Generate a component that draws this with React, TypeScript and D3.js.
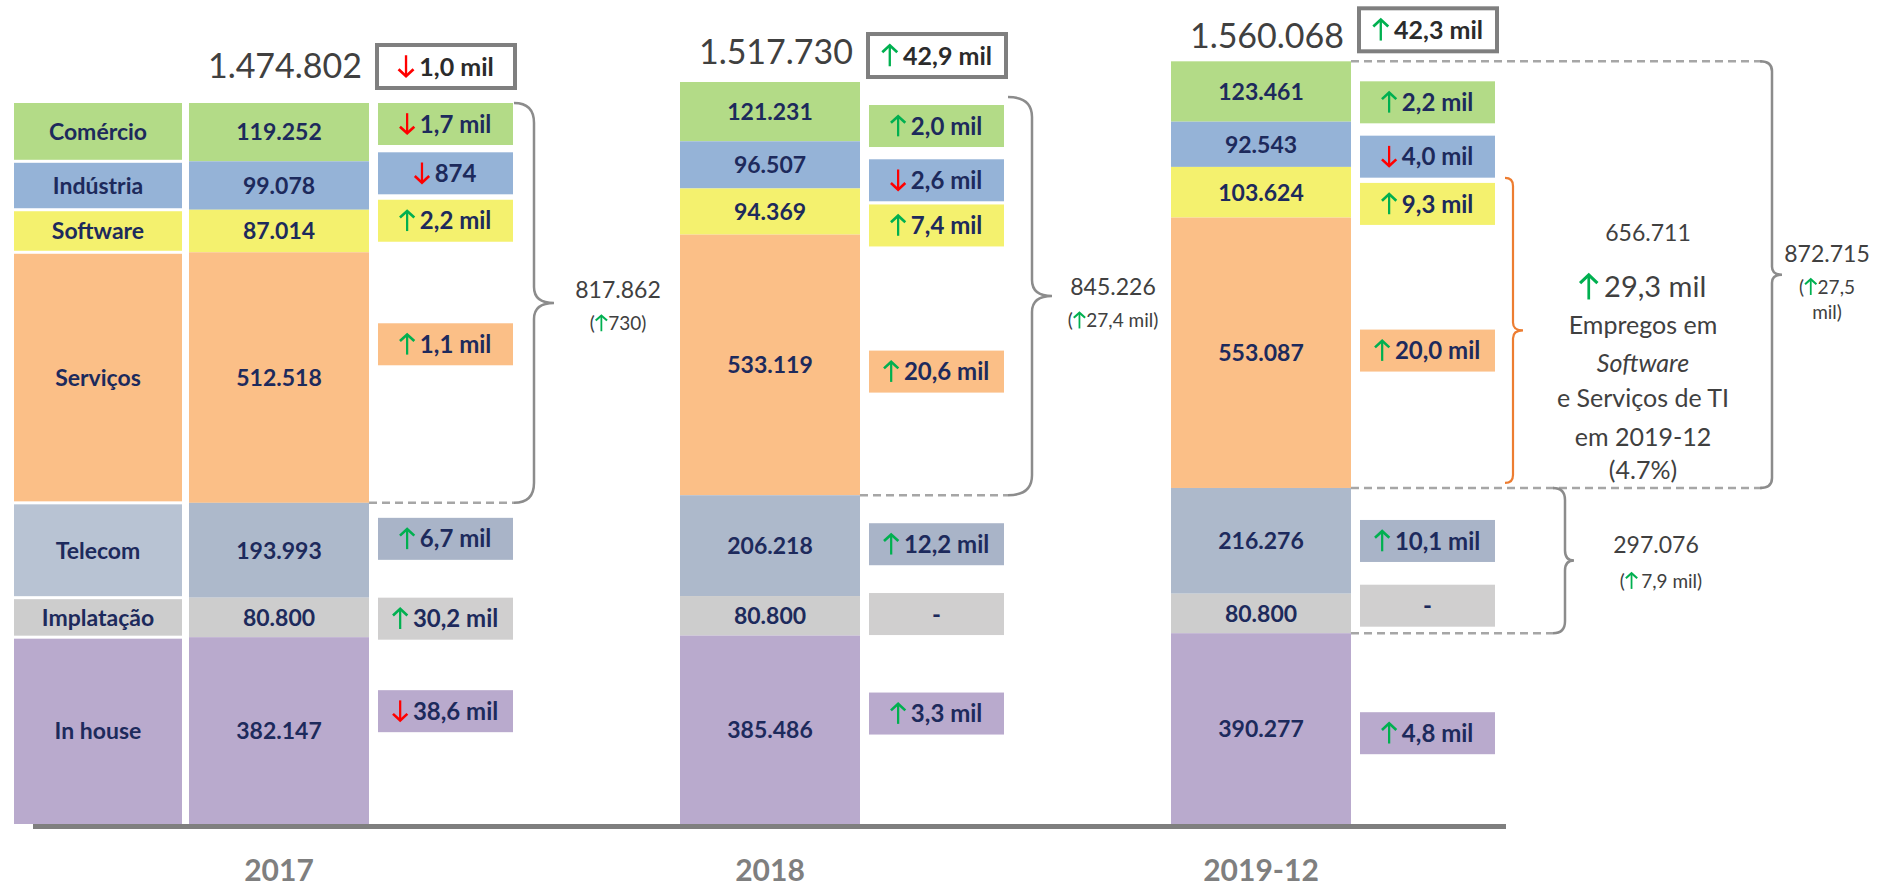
import React, { useEffect, useRef } from "react";
import * as d3 from "d3";

// ---------------- data ----------------
const years = ["2017", "2018", "2019-12"];
const categories = ["Comércio", "Indústria", "Software", "Serviços", "Telecom", "Implatação", "In house"];
const employees2017 = [119252, 99078, 87014, 512518, 193993, 80800, 382147];
const employees2018 = [121231, 96507, 94369, 533119, 206218, 80800, 385486];
const employees2019 = [123461, 92543, 103624, 553087, 216276, 80800, 390277];
const change2017 = [-1700, -874, 2200, 1100, 6700, 30200, -38600];
const change2018 = [2000, -2600, 7400, 20600, 12200, 0, 3300];
const change2019 = [2200, -4000, 9300, 20000, 10100, 0, 4800];
const totalChange = [-1000, 42900, 42300];
const firstFourChange = [730, 27400, 27500];
const swServChange2019 = 29300;
const telImplChange2019 = 7900;
const swServShare2019 = 4.7;

// ---------------- style ----------------
const segFill = ["#B3DB87", "#95B3D7", "#F4F16E", "#FBBF87", "#ADB9CB", "#CDCDCD", "#B9AACD"];
const labelFill = ["#B3DB87", "#95B3D7", "#F4F16E", "#FBBF87", "#B8C3D3", "#CDCDCD", "#B9AACD"];
const deltaFill = ["#B3DB87", "#95B3D7", "#F4F16E", "#FBBF87", "#A9B4C8", "#D0CFCF", "#B9AACD"];
const NAVY = "#1d2a5c";
const DARK = "#404040";
const GREEN = "#00B050";
const RED = "#FF0000";
const FONT = "Lato, 'Open Sans', 'DejaVu Sans', sans-serif";

// annotation layout (px offsets from the segment top, per year)
const deltaBoxOffset = [
  [0, -9, -10, 71, 15, 0, 53],
  [23, 18, 16, 116, 28, -3, 57],
  [20, 14, 16, 112, 32, -9, 79],
];
const headerBoxBottom = [-15, -5, -10];
const headerTextBase = [-25, -18, -13];

const locale = d3.formatLocale({ decimal: ",", thousands: ".", grouping: [3], currency: ["R$", ""] });
const fmtInt = locale.format(",d");
const fmtMil = locale.format(".1f");
const changeLabel = (v: number) => {
  const a = Math.abs(v);
  return a >= 1000 ? fmtMil(a / 1000) + " mil" : fmtInt(a);
};

export default function App() {
  const ref = useRef<SVGSVGElement>(null);

  useEffect(() => {
    const svg = d3.select(ref.current as SVGSVGElement);
    svg.selectAll("*").remove();
    const root = svg.append("g").attr("font-family", FONT);

    const series = [employees2017, employees2018, employees2019];
    const changes = [change2017, change2018, change2019];
    const totals = series.map((s) => d3.sum(s));

    const baseY = 824;
    const y = d3.scaleLinear().domain([0, totals[0]]).range([baseY, 103]);
    const xLeft = d3.scalePoint<string>().domain(years).range([189, 1171]);
    const colW = 180;

    const drawArrow = (g: any, cx: number, cy: number, up: boolean, h: number, sw: number) => {
      const half = h / 2;
      const hw = h * 0.34;
      const hh = h * 0.36;
      const tipY = up ? cy - half : cy + half;
      const tailY = up ? cy + half : cy - half;
      const dir = up ? 1 : -1;
      const color = up ? GREEN : RED;
      g.append("path")
        .attr("d", `M${cx},${tailY} L${cx},${tipY + dir * 2}`)
        .attr("stroke", color)
        .attr("stroke-width", sw * 0.85)
        .attr("fill", "none");
      g.append("path")
        .attr("d", `M${cx - hw},${tipY + dir * hh} L${cx},${tipY + dir * 1} L${cx + hw},${tipY + dir * hh}`)
        .attr("stroke", color)
        .attr("stroke-width", sw)
        .attr("fill", "none")
        .attr("stroke-linejoin", "miter");
    };

    const arrowText = (
      g: any,
      cx: number,
      baseline: number,
      pre: string,
      up: boolean,
      post: string,
      fs: number,
      weight: number,
      color: string,
      gapAfter = 0.22
    ) => {
      const mk = (s: string) =>
        g.append("text").attr("font-size", fs).attr("font-weight", weight).attr("fill", color).attr("y", baseline).text(s);
      const tPre = pre ? mk(pre) : null;
      const wPre = tPre ? (tPre.node() as SVGTextElement).getComputedTextLength() : 0;
      const tPost = mk(post);
      const wPost = (tPost.node() as SVGTextElement).getComputedTextLength();
      const aW = fs * 0.62;
      const g1 = pre ? fs * 0.04 : 0;
      const g2 = fs * gapAfter;
      const total = wPre + g1 + aW + g2 + wPost;
      let x = cx - total / 2;
      if (tPre) tPre.attr("x", x);
      x += wPre + g1;
      drawArrow(g, x + aW / 2, baseline - fs * 0.37, up, fs * 0.88, Math.max(2, fs * 0.11));
      x += aW + g2;
      tPost.attr("x", x);
    };

    const brace = (x0: number, y0: number, y1: number, dx1: number, dx2: number, r: number, rm: number) => {
      const x1 = x0 + dx1;
      const x2 = x1 + dx2;
      const ym = (y0 + y1) / 2;
      return {
        d: `M${x0},${y0} Q${x1},${y0} ${x1},${y0 + r} L${x1},${ym - rm} Q${x1},${ym} ${x2},${ym} Q${x1},${ym} ${x1},${ym + rm} L${x1},${y1 - r} Q${x1},${y1} ${x0},${y1}`,
        tipX: x2,
        tipY: ym,
      };
    };
    const drawBrace = (b: any, color = "#8c8c8c", w = 2.5) =>
      root.append("path").attr("d", b.d).attr("fill", "none").attr("stroke", color).attr("stroke-width", w);
    const dashed = (x0: number, x1: number, yy: number) =>
      root
        .append("line")
        .attr("x1", x0)
        .attr("x2", x1)
        .attr("y1", yy)
        .attr("y2", yy)
        .attr("stroke", "#a6a6a6")
        .attr("stroke-width", 2.5)
        .attr("stroke-dasharray", "8 5");

    // per-year segment geometry
    const geo = series.map((vals) =>
      vals.map((v, j) => ({
        top: y(d3.sum(vals.slice(j))),
        bottom: y(d3.sum(vals.slice(j + 1))),
        value: v,
      }))
    );

    // baseline
    root
      .append("rect")
      .attr("x", 33)
      .attr("y", baseY)
      .attr("width", 1473)
      .attr("height", 5)
      .attr("fill", "#7f7f7f");

    years.forEach((yr, i) => {
      const x0 = xLeft(yr) as number;
      const xR = x0 + colW;
      const segs = geo[i];
      const g = root.append("g");

      // label column (only first year)
      if (i === 0) {
        segs.forEach((s, j) => {
          const t = s.top + (j === 0 ? 0 : 1.5);
          const b = s.bottom - (j === segs.length - 1 ? 0 : 1.5);
          g.append("rect")
            .attr("x", x0 - 175)
            .attr("y", t)
            .attr("width", 168)
            .attr("height", b - t)
            .attr("fill", labelFill[j]);
          g.append("text")
            .attr("x", x0 - 175 + 84)
            .attr("y", (s.top + s.bottom) / 2 + 23 * 0.36)
            .attr("text-anchor", "middle")
            .attr("font-size", 23)
            .attr("font-weight", 700)
            .attr("fill", NAVY)
            .text(categories[j]);
        });
      }

      // stacked column
      segs.forEach((s, j) => {
        g.append("rect")
          .attr("x", x0)
          .attr("y", s.top)
          .attr("width", colW)
          .attr("height", s.bottom - s.top)
          .attr("fill", segFill[j]);
        g.append("text")
          .attr("x", x0 + colW / 2)
          .attr("y", (s.top + s.bottom) / 2 + 23 * 0.36)
          .attr("text-anchor", "middle")
          .attr("font-size", 23)
          .attr("font-weight", 700)
          .attr("fill", NAVY)
          .text(fmtInt(s.value));
      });

      // change boxes
      segs.forEach((s, j) => {
        const bx = xR + 9;
        const bw = 135;
        const bh = 42;
        const by = s.top + deltaBoxOffset[i][j];
        const ch = changes[i][j];
        g.append("rect")
          .attr("x", bx)
          .attr("y", by)
          .attr("width", bw)
          .attr("height", bh)
          .attr("fill", ch === 0 ? deltaFill[5] : deltaFill[j]);
        const base = by + bh / 2 + 24 * 0.36;
        if (ch === 0) {
          g.append("text")
            .attr("x", bx + bw / 2)
            .attr("y", base)
            .attr("text-anchor", "middle")
            .attr("font-size", 24)
            .attr("font-weight", 700)
            .attr("fill", NAVY)
            .text("-");
        } else {
          arrowText(g, bx + bw / 2, base, "", ch > 0, changeLabel(ch), 24, 700, NAVY);
        }
      });

      // header: total + change box
      const barTop = y(totals[i]);
      root
        .append("text")
        .attr("x", xR - 7)
        .attr("y", barTop + headerTextBase[i])
        .attr("text-anchor", "end")
        .attr("font-size", 34)
        .attr("fill", DARK)
        .text(fmtInt(totals[i]));
      const hbBottom = barTop + headerBoxBottom[i];
      root
        .append("rect")
        .attr("x", xR + 8)
        .attr("y", hbBottom - 43)
        .attr("width", 138)
        .attr("height", 43)
        .attr("fill", "#fff")
        .attr("stroke", "#7f7f7f")
        .attr("stroke-width", 4);
      arrowText(root, xR + 8 + 69, hbBottom - 21.5 + 25 * 0.36, "", totalChange[i] > 0, changeLabel(totalChange[i]), 25, 700, "#2b2b2b");

      // year label
      root
        .append("text")
        .attr("x", x0 + colW / 2)
        .attr("y", 881)
        .attr("text-anchor", "middle")
        .attr("font-size", 30)
        .attr("font-weight", 700)
        .attr("fill", "#7f7f7f")
        .text(yr);
    });

    // ---- braces ----
    const sumFirst4 = series.map((s) => d3.sum(s.slice(0, 4)));

    // 2017
    {
      const xR = (xLeft(years[0]) as number) + colW;
      const s = geo[0];
      const b = brace(xR + 145, s[0].top, s[3].bottom, 20, 20, 20, 16);
      drawBrace(b);
      dashed(xR, xR + 145, s[3].bottom);
      root.append("text").attr("x", b.tipX + 64).attr("y", b.tipY - 5).attr("text-anchor", "middle").attr("font-size", 23).attr("fill", DARK).text(fmtInt(sumFirst4[0]));
      arrowText(root, b.tipX + 64, b.tipY + 27, "(", firstFourChange[0] > 0, changeLabel(firstFourChange[0]) + ")", 19, 400, DARK, 0.05);
    }
    // 2018
    {
      const xR = (xLeft(years[1]) as number) + colW;
      const s = geo[1];
      const b = brace(xR + 148, s[0].top + 15, s[3].bottom, 24, 20, 20, 16);
      drawBrace(b);
      dashed(xR, xR + 148, s[3].bottom);
      root.append("text").attr("x", b.tipX + 61).attr("y", b.tipY - 1).attr("text-anchor", "middle").attr("font-size", 23).attr("fill", DARK).text(fmtInt(sumFirst4[1]));
      arrowText(root, b.tipX + 61, b.tipY + 31, "(", firstFourChange[1] > 0, changeLabel(firstFourChange[1]) + ")", 19, 400, DARK, 0.05);
    }
    // 2019
    {
      const xR = (xLeft(years[2]) as number) + colW;
      const s = geo[2];
      // big dashed bracket around first four
      dashed(xR, 1762, s[0].top);
      dashed(xR, 1762, s[3].bottom);
      const big = brace(1760, s[0].top, s[3].bottom, 12, 10, 10, 8);
      drawBrace(big);
      root.append("text").attr("x", 1827).attr("y", big.tipY - 13).attr("text-anchor", "middle").attr("font-size", 23).attr("fill", DARK).text(fmtInt(sumFirst4[2]));
      arrowText(root, 1827, big.tipY + 19, "(", firstFourChange[2] > 0, "27,5", 19, 400, DARK, 0.05);
      root.append("text").attr("x", 1827).attr("y", big.tipY + 44).attr("text-anchor", "middle").attr("font-size", 19).attr("fill", DARK).text("mil)");

      // orange brace: software + serviços
      const ob = brace(xR + 154, s[2].top + 11, s[3].bottom - 5, 8, 10, 8, 8);
      drawBrace(ob, "#ED7D31", 2.2);
      const cx = 1643;
      const m = ob.tipY;
      root.append("text").attr("x", cx + 5).attr("y", m - 89).attr("text-anchor", "middle").attr("font-size", 23).attr("fill", DARK).text(fmtInt(s[2].value + s[3].value));
      arrowText(root, cx, m - 33, "", swServChange2019 > 0, changeLabel(swServChange2019), 29, 400, DARK, 0.22);
      const lines: [string, boolean, number][] = [
        ["Empregos em", false, 4],
        ["Software", true, 42],
        ["e Serviços de TI", false, 77],
        ["em 2019-12", false, 116],
        ["(" + d3.format(".1f")(swServShare2019) + "%)", false, 149],
      ];
      lines.forEach(([t, it, dy]) =>
        root
          .append("text")
          .attr("x", cx)
          .attr("y", m + dy)
          .attr("text-anchor", "middle")
          .attr("font-size", 25)
          .attr("font-style", it ? "italic" : "normal")
          .attr("fill", DARK)
          .text(t)
      );

      // telecom + implantação brace
      dashed(xR, 1553, s[5].bottom);
      const tb = brace(1553, s[3].bottom, s[5].bottom, 12, 9, 12, 10);
      drawBrace(tb);
      root.append("text").attr("x", 1656).attr("y", tb.tipY - 8).attr("text-anchor", "middle").attr("font-size", 23).attr("fill", DARK).text(fmtInt(s[4].value + s[5].value));
      arrowText(root, 1661, tb.tipY + 27, "(", telImplChange2019 > 0, changeLabel(telImplChange2019) + ")", 19, 400, DARK, 0.2);
    }
  }, []);

  return (
    <svg
      ref={ref}
      width={1885}
      height={891}
      style={{ position: "absolute", left: 0, top: 0, background: "#ffffff" }}
    />
  );
}
